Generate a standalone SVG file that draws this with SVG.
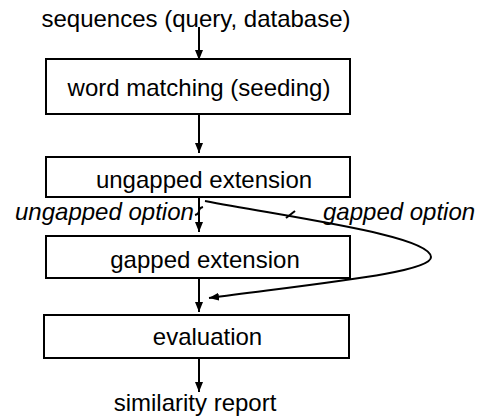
<svg xmlns="http://www.w3.org/2000/svg" width="484" height="417" viewBox="0 0 484 417">
<defs>
<marker id="ah" viewBox="0 0 10 8" refX="10" refY="4" markerWidth="10" markerHeight="8" markerUnits="userSpaceOnUse" orient="auto">
<path d="M0,0 L10,4 L0,8 Z" fill="#000"/>
</marker>
<style>
text{font-family:"Liberation Sans",Arial,sans-serif;font-size:24px;fill:#000}
.c{text-anchor:middle}
.i{font-style:italic}
.box{fill:#fff;stroke:#000;stroke-width:2}
.ln{fill:none;stroke:#000;stroke-width:2}
.a{marker-end:url(#ah)}
</style>
</defs>
<rect width="484" height="417" fill="#fff"/>
<text class="c" x="196" y="27">sequences (query, database)</text>
<g id="connectors">
<line class="ln a" x1="199" y1="27" x2="199" y2="60"/>
<line class="ln a" x1="199" y1="115" x2="199" y2="153"/>
<line class="ln a" x1="199" y1="198" x2="199" y2="232"/>
<line class="ln a" x1="199" y1="279" x2="199" y2="312"/>
<line class="ln a" x1="199" y1="359" x2="199" y2="392"/>
<path class="ln a" d="M205,201 C300,219 430,236 431,257 C432,272 330,282 209,298"/>
<path class="ln" d="M195,215 Q199,214 199,211 Q199,208 203,207" stroke-width="1.5"/>
<path class="ln" d="M286,218 L295,211" stroke-width="1.5"/>
</g>
<g id="word-matching">
<rect class="box" x="46" y="59" width="304" height="55"/>
<text class="c" x="199" y="96">word matching (seeding)</text>
</g>
<g id="ungapped-extension">
<rect class="box" x="46" y="157" width="304" height="40"/>
<text class="c" x="204" y="188">ungapped extension</text>
</g>
<text class="i" x="15" y="220">ungapped option</text>
<text class="i" x="323" y="220">gapped option</text>
<g id="gapped-extension">
<rect class="box" x="46" y="236" width="304" height="42"/>
<text class="c" x="205" y="268">gapped extension</text>
</g>
<g id="evaluation">
<rect class="box" x="44" y="315" width="305" height="43"/>
<text class="c" x="207.5" y="345">evaluation</text>
</g>
<text class="c" x="195" y="411">similarity report</text>
</svg>
